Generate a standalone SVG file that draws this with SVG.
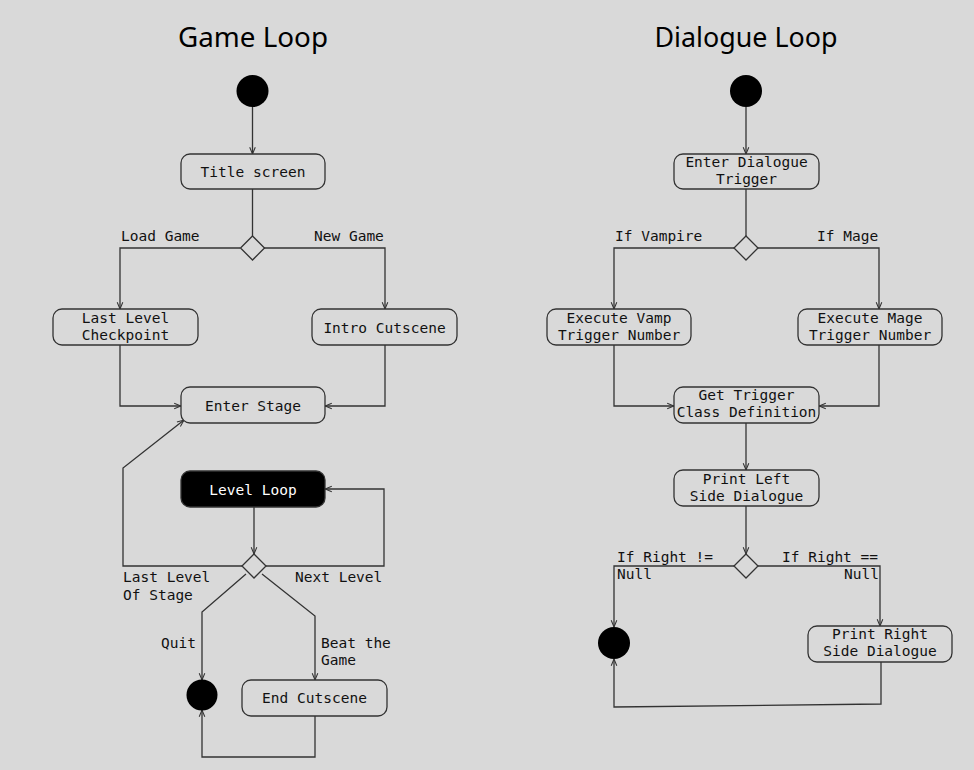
<svg xmlns="http://www.w3.org/2000/svg" width="974" height="770" viewBox="0 0 974 770">
<defs>
<marker id="a" viewBox="0 0 10 10" refX="9.5" refY="5" markerWidth="8" markerHeight="8" orient="auto" markerUnits="userSpaceOnUse">
<path d="M1,1.5 L9.5,5 L1,8.5" fill="none" stroke="#333" stroke-width="1.3"/>
</marker>
</defs>
<style>
.n{fill:#d9d9d9;stroke:#333;stroke-width:1.3}
.b{fill:#000;stroke:#333;stroke-width:1.3}
.d{fill:#d9d9d9;stroke:#333;stroke-width:1.3}
.s{fill:#000}
text{font-family:"DejaVu Sans Mono","Liberation Mono",monospace;font-size:14.5px;fill:#111}
.c{text-anchor:middle}
.w{fill:#fff}
.t{font-family:"Noto Sans","DejaVu Sans",sans-serif;font-size:27px;fill:#000}
.e path,.e polyline,.e line{fill:none;stroke:#333;stroke-width:1.3}
.e .m{marker-end:url(#a)}
</style>
<rect width="974" height="770" fill="#d9d9d9"/>
<text class="t c" x="253" y="47" textLength="150" lengthAdjust="spacingAndGlyphs">Game Loop</text>
<text class="t c" x="746" y="47" textLength="183" lengthAdjust="spacingAndGlyphs">Dialogue Loop</text>

<g class="e" id="connectors">
<line class="m" x1="252.5" y1="107" x2="252.5" y2="154"/>
<line x1="252.5" y1="189" x2="252.5" y2="236"/>
<polyline class="m" points="240,248 120,248 120,309"/>
<polyline class="m" points="264,248 385,248 385,309"/>
<polyline class="m" points="120,345 120,406 181,406"/>
<polyline class="m" points="385,345 385,406 325,406"/>
<line class="m" x1="254" y1="507" x2="254" y2="554"/>
<polyline class="m" points="242,566 123,566 123,468 184,420"/>
<polyline class="m" points="266,566 384,566 384,489 325,489"/>
<polyline class="m" points="246,574 202,612 202,680"/>
<polyline class="m" points="262,574 315,616 315,680"/>
<polyline class="m" points="315,716 315,757 202,757 202,710"/>

<line class="m" x1="746" y1="107" x2="746" y2="154"/>
<line x1="746" y1="189" x2="746" y2="236"/>
<polyline class="m" points="734,248 614,248 614,309"/>
<polyline class="m" points="758,248 879,248 879,309"/>
<polyline class="m" points="614,345 614,406 674,406"/>
<polyline class="m" points="879,345 879,406 819,406"/>
<line class="m" x1="746" y1="423" x2="746" y2="470"/>
<line class="m" x1="746" y1="506" x2="746" y2="554"/>
<polyline class="m" points="734,566 614,566 614,627"/>
<polyline class="m" points="758,566 880,566 880,626"/>
<polyline class="m" points="881,662 881,704 614,707 614,659"/>
</g>

<g id="start1"><circle class="s" cx="252.5" cy="91" r="16"/></g>
<g id="title"><rect class="n" x="181" y="154" width="144" height="35" rx="9"/><text class="c" x="253" y="177">Title screen</text></g>
<g id="dec1"><polygon class="d" points="252.5,236 264.5,248 252.5,260 240.5,248"/></g>
<g id="lbl1"><text x="121" y="241">Load Game</text><text x="314" y="241">New Game</text></g>
<g id="checkpoint"><rect class="n" x="53" y="309" width="145" height="36" rx="9"/><text class="c" x="125.5" y="323">Last Level</text><text class="c" x="125.5" y="340">Checkpoint</text></g>
<g id="intro"><rect class="n" x="312" y="309" width="145" height="36" rx="9"/><text class="c" x="384.5" y="333">Intro Cutscene</text></g>
<g id="enterstage"><rect class="n" x="181" y="387" width="144" height="36" rx="9"/><text class="c" x="253" y="411">Enter Stage</text></g>
<g id="levelloop"><rect class="b" x="181" y="471" width="144" height="36" rx="9"/><text class="c w" x="253" y="495">Level Loop</text></g>
<g id="dec2"><polygon class="d" points="254,554 266,566 254,578 242,566"/></g>
<g id="lbl2"><text x="123" y="582">Last Level</text><text x="123" y="600">Of Stage</text><text x="295" y="582">Next Level</text><text x="161" y="648">Quit</text><text x="321" y="648">Beat the</text><text x="321" y="665">Game</text></g>
<g id="end1"><circle class="s" cx="202" cy="695" r="15.5"/></g>
<g id="endcut"><rect class="n" x="242" y="680" width="145" height="36" rx="9"/><text class="c" x="314.5" y="703">End Cutscene</text></g>

<g id="start2"><circle class="s" cx="746" cy="91" r="16"/></g>
<g id="enterdlg"><rect class="n" x="674" y="154" width="145" height="35" rx="9"/><text class="c" x="746.5" y="167">Enter Dialogue</text><text class="c" x="746.5" y="184">Trigger</text></g>
<g id="dec3"><polygon class="d" points="746,236 758,248 746,260 734,248"/></g>
<g id="lbl3"><text x="615" y="241">If Vampire</text><text x="817" y="241">If Mage</text></g>
<g id="vamp"><rect class="n" x="547" y="309" width="144" height="36" rx="9"/><text class="c" x="619" y="323">Execute Vamp</text><text class="c" x="619" y="340">Trigger Number</text></g>
<g id="mage"><rect class="n" x="798" y="309" width="144" height="36" rx="9"/><text class="c" x="870" y="323">Execute Mage</text><text class="c" x="870" y="340">Trigger Number</text></g>
<g id="getclass"><rect class="n" x="674" y="387" width="145" height="36" rx="9"/><text class="c" x="746.5" y="400">Get Trigger</text><text class="c" x="746.5" y="417">Class Definition</text></g>
<g id="printleft"><rect class="n" x="674" y="470" width="145" height="36" rx="9"/><text class="c" x="746.5" y="484">Print Left</text><text class="c" x="746.5" y="501">Side Dialogue</text></g>
<g id="dec4"><polygon class="d" points="746,554 758,566 746,578 734,566"/></g>
<g id="lbl4"><text x="617" y="562">If Right !=</text><text x="617" y="579">Null</text><text x="782" y="562">If Right ==</text><text x="879" y="579" text-anchor="end">Null</text></g>
<g id="end2"><circle class="s" cx="614" cy="643" r="16"/></g>
<g id="printright"><rect class="n" x="808" y="626" width="144" height="36" rx="9"/><text class="c" x="880" y="639">Print Right</text><text class="c" x="880" y="656">Side Dialogue</text></g>
</svg>
